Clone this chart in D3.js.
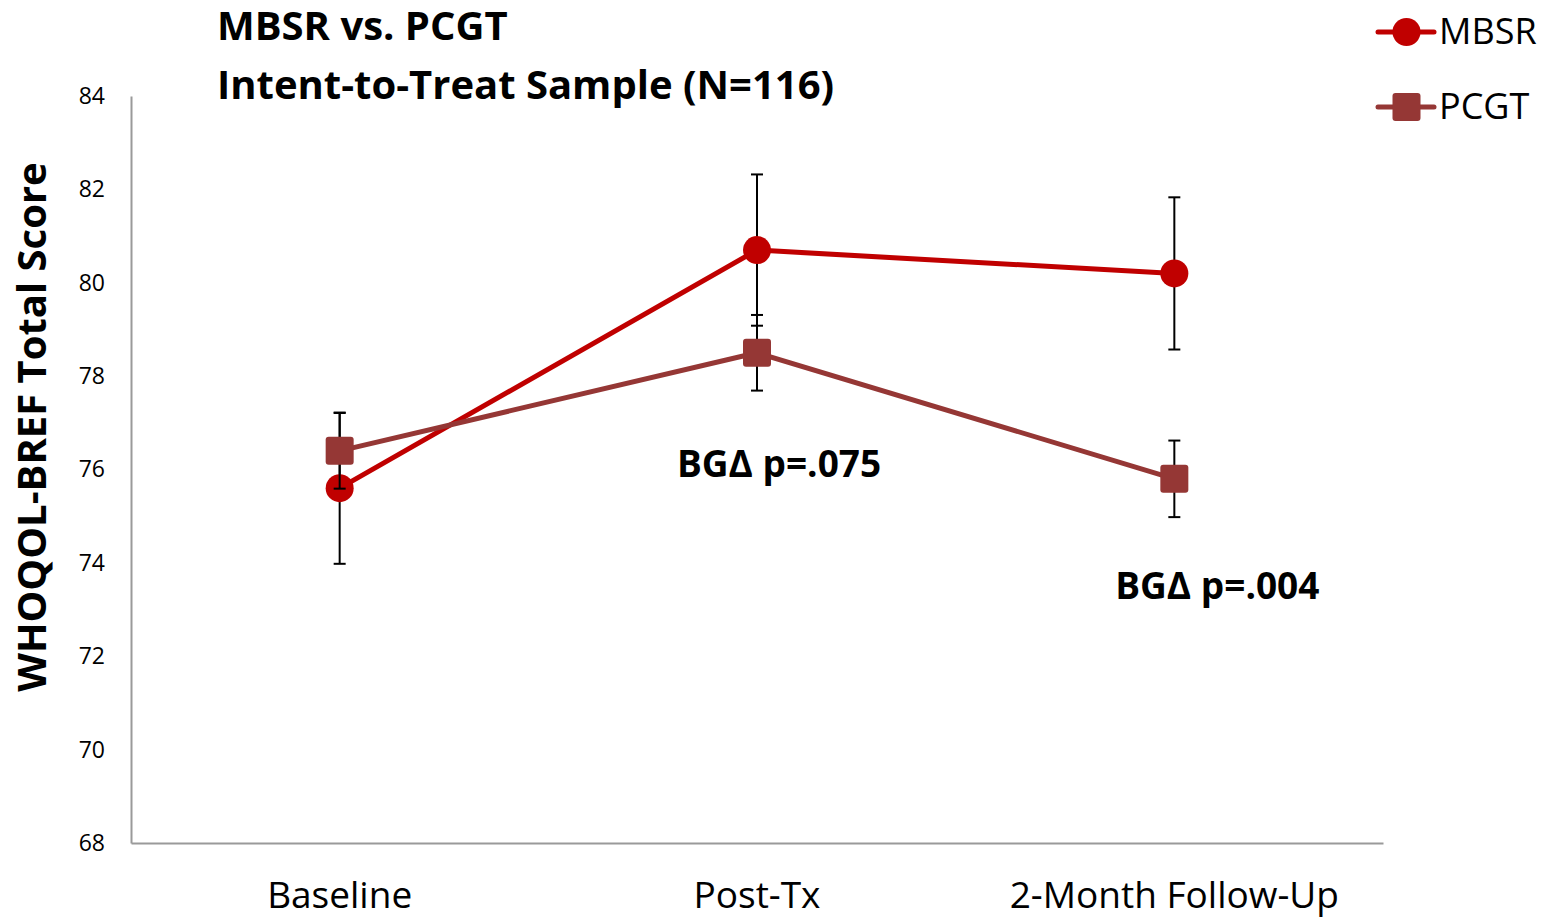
<!DOCTYPE html>
<html>
<head>
<meta charset="utf-8">
<script src="https://cdn.jsdelivr.net/npm/d3@7"></script>
<style>
  html, body { margin: 0; padding: 0; background: #fff; }
  svg { display: block; font-family: "Open Sans", sans-serif; }
</style>
</head>
<body>
<svg id="chart" width="1555" height="919"></svg>
<script>
// Time points and group means (WHOQOL-BREF total score) with error bar half-widths
const timepoints = ["Baseline", "Post-Tx", "2-Month Follow-Up"];
const mbsrMeans = [75.6, 80.7, 80.2];
const mbsrErr = [1.62, 1.62, 1.63];
const pcgtMeans = [76.4, 78.5, 75.8];
const pcgtErr = [0.81, 0.81, 0.82];
const yTicks = [68, 70, 72, 74, 76, 78, 80, 82, 84];
const noteTexts = ["BGΔ p=.075", "BGΔ p=.004"];
const noteTimepoints = ["Post-Tx", "2-Month Follow-Up"];
const noteLevels = [75.84, 73.23];

const series = [
  { name: "MBSR", means: mbsrMeans, err: mbsrErr, color: "#C00000", marker: "circle" },
  { name: "PCGT", means: pcgtMeans, err: pcgtErr, color: "#953735", marker: "square" }
];

const svg = d3.select("#chart");
const plot = { left: 131, right: 1383, top: 96, bottom: 843 };

const x = d3.scaleBand().domain(timepoints).range([plot.left, plot.right]);
const y = d3.scaleLinear().domain([68, 84]).range([plot.bottom, plot.top]);
const cx = d => x(d) + x.bandwidth() / 2;

// Axes: plain grey lines, no tick marks
const yAxis = svg.append("g")
  .attr("transform", `translate(${plot.left},0)`)
  .call(d3.axisLeft(y).tickValues(yTicks).tickSize(0).tickPadding(26).tickFormat(d3.format("d")));
yAxis.select(".domain").attr("stroke", "#9a9a9a").attr("stroke-width", 2);
yAxis.selectAll("text").attr("font-size", 23).attr("fill", "#000")
  .attr("font-family", "Open Sans");

const xAxis = svg.append("g")
  .attr("transform", `translate(0,${plot.bottom})`)
  .call(d3.axisBottom(x).tickSize(0).tickPadding(39));
xAxis.select(".domain").attr("stroke", "#9a9a9a").attr("stroke-width", 2);
xAxis.selectAll("text").attr("font-size", 37).attr("fill", "#000")
  .attr("font-family", "Open Sans");

// Axis title
svg.append("text")
  .attr("transform", "translate(46,427) rotate(-90)")
  .attr("text-anchor", "middle")
  .attr("font-size", 40).attr("font-weight", 700)
  .text("WHOQOL-BREF Total Score");

// Chart title
svg.append("text").attr("x", 217).attr("y", 40)
  .attr("font-size", 40).attr("font-weight", 700).text("MBSR vs. PCGT");
svg.append("text").attr("x", 217).attr("y", 99)
  .attr("font-size", 40).attr("font-weight", 700).text("Intent-to-Treat Sample (N=116)");

const line = d3.line()
  .x((d, i) => cx(timepoints[i]))
  .y(d => y(d));

const capW = 6;
const markerR = 14;

series.forEach(s => {
  const g = svg.append("g");
  // error bars
  s.means.forEach((m, i) => {
    const px = cx(timepoints[i]);
    const eg = g.append("g").attr("stroke", "#000").attr("stroke-width", 2);
    eg.append("line").attr("x1", px).attr("x2", px).attr("y1", y(m - s.err[i])).attr("y2", y(m + s.err[i]));
    eg.append("line").attr("x1", px - capW).attr("x2", px + capW).attr("y1", y(m + s.err[i])).attr("y2", y(m + s.err[i]));
    eg.append("line").attr("x1", px - capW).attr("x2", px + capW).attr("y1", y(m - s.err[i])).attr("y2", y(m - s.err[i]));
  });
  // connecting line
  g.append("path").datum(s.means)
    .attr("d", line)
    .attr("fill", "none").attr("stroke", s.color).attr("stroke-width", 5)
    .attr("stroke-linejoin", "round");
  // markers
  s.means.forEach((m, i) => {
    const px = cx(timepoints[i]);
    if (s.marker === "circle") {
      g.append("circle").attr("cx", px).attr("cy", y(m)).attr("r", markerR).attr("fill", s.color);
    } else {
      g.append("rect").attr("x", px - markerR).attr("y", y(m) - markerR)
        .attr("width", markerR * 2).attr("height", markerR * 2).attr("rx", 3)
        .attr("fill", s.color);
    }
  });
});

// Between-group significance labels (shifted right of their time point)
const noteShift = [22, 43];
noteTexts.forEach((t, i) => {
  svg.append("text")
    .attr("x", cx(noteTimepoints[i]) + noteShift[i]).attr("y", y(noteLevels[i]))
    .attr("text-anchor", "middle")
    .attr("font-size", 37).attr("font-weight", 700)
    .text(t);
});

// Legend
const legend = svg.append("g");
series.forEach((s, i) => {
  const ly = 32 + i * 75;
  const lg = legend.append("g").attr("transform", `translate(1378,${ly})`);
  lg.append("line").attr("x1", 0).attr("x2", 56).attr("y1", 0).attr("y2", 0)
    .attr("stroke", s.color).attr("stroke-width", 5).attr("stroke-linecap", "round");
  if (s.marker === "circle") {
    lg.append("circle").attr("cx", 28.5).attr("cy", 0).attr("r", markerR).attr("fill", s.color);
  } else {
    lg.append("rect").attr("x", 28.5 - markerR).attr("y", -markerR).attr("width", markerR * 2)
      .attr("height", markerR * 2).attr("rx", 3).attr("fill", s.color);
  }
  lg.append("text").attr("x", 61).attr("y", 12).attr("font-size", 36).text(s.name);
});
</script>
</body>
</html>
